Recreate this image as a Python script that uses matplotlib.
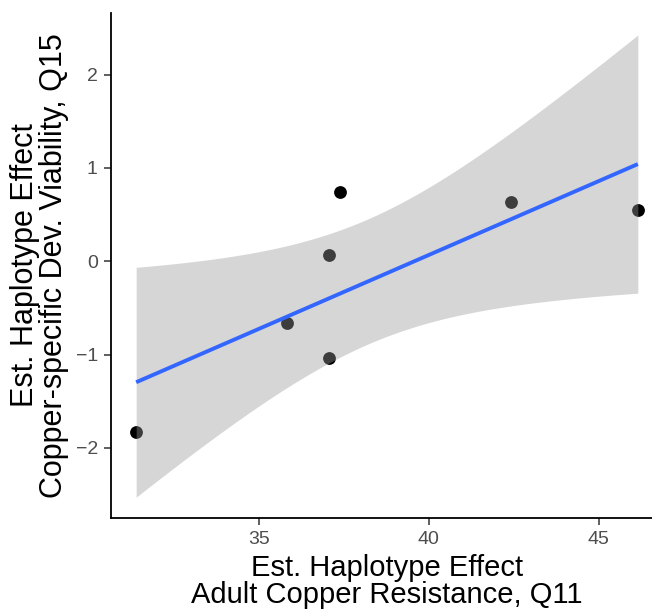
import numpy as np
import matplotlib.pyplot as plt

plt.rcParams['font.family'] = ['Liberation Sans', 'DejaVu Sans']

# haplotype effects
copper_resistance_q11 = [31.40, 35.84, 37.08, 37.08, 37.38, 42.42, 46.15]
dev_viability_q15 = [-1.83, -0.66, 0.065, -1.04, 0.74, 0.64, 0.55]

x_ticks = [35, 40, 45]
y_ticks = [-2, -1, 0, 1, 2]

x = np.array(copper_resistance_q11)
y = np.array(dev_viability_q15)

# linear fit with 95% confidence band (like geom_smooth(method="lm"))
n = len(x)
slope, intercept = np.polyfit(x, y, 1)
resid = y - (intercept + slope * x)
s = np.sqrt(np.sum(resid**2) / (n - 2))
t_crit = 2.5706  # t(0.975, df=5)
xx = np.linspace(x.min(), x.max(), 80)
yy = intercept + slope * xx
se = s * np.sqrt(1.0 / n + (xx - x.mean())**2 / np.sum((x - x.mean())**2))
lo = yy - t_crit * se
hi = yy + t_crit * se

fig = plt.figure(figsize=(6.52, 6.15), dpi=100)
# panel runs a little past the right edge, as in the cropped original
ax = fig.add_axes([111 / 652, 1 - 518 / 615, (663 - 111) / 652, (518 - 13) / 615])

ax.scatter(x, y, s=85, color='black', zorder=2, linewidths=0)
ax.fill_between(xx, lo, hi, color='#999999', alpha=0.4, linewidth=0, zorder=3)
ax.plot(xx, yy, color='#3366FF', lw=2.8, zorder=4, solid_capstyle='butt')

ax.set_xlim(30.66, 46.89)
ax.set_ylim(-2.75, 2.66)
ax.set_xticks(x_ticks)
ax.set_yticks(y_ticks)

for side in ['top', 'right']:
    ax.spines[side].set_visible(False)
for side in ['left', 'bottom']:
    ax.spines[side].set_linewidth(1.3)
    ax.spines[side].set_color('black')

ax.tick_params(axis='both', length=5, width=1.1, color='#333333',
               labelsize=14, labelcolor='#4D4D4D', pad=4.5)

ax.set_xlabel('Est. Haplotype Effect\nAdult Copper Resistance, Q11',
              fontsize=21, color='black', labelpad=4, linespacing=0.95)
ax.set_ylabel('Est. Haplotype Effect\nCopper-specific Dev. Viability, Q15',
              fontsize=22, color='black', labelpad=5, linespacing=0.95)

fig.savefig('out.png', dpi=100)
